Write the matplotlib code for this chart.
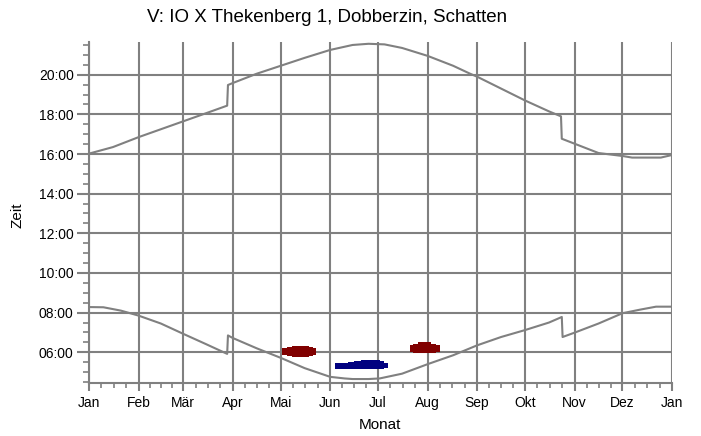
#!/usr/bin/env python3
"""Schattenwurf-Diagramm: Sonnenauf-/untergang und Schattenzeiten."""

import numpy as np
import matplotlib.pyplot as plt
from matplotlib.ticker import FixedLocator, MultipleLocator, FuncFormatter

plt.rcParams["font.family"] = ["Liberation Sans", "DejaVu Sans"]

# Monatsanfaenge (Tag im Jahr) und Beschriftung
month_start = [0, 31, 59, 90, 120, 151, 181, 212, 243, 273, 304, 334, 365]
month_names = ["Jan", "Feb", "Mär", "Apr", "Mai", "Jun", "Jul", "Aug",
               "Sep", "Okt", "Nov", "Dez", "Jan"]

# Sonnenaufgang (Stunden)
rise_day = [0, 9, 20, 31, 45, 59, 73, 86.5, 87, 90, 105, 120, 135, 151,
            160, 165, 175, 182, 196, 212, 228, 243, 258, 273, 288, 296,
            296.5, 304, 319, 334, 345, 355, 365]
rise_h = [8.28, 8.27, 8.1, 7.85, 7.45, 6.93, 6.42, 5.92, 6.85, 6.72, 6.2,
          5.72, 5.2, 4.76, 4.68, 4.65, 4.65, 4.68, 4.92, 5.4, 5.85, 6.35,
          6.77, 7.12, 7.5, 7.78, 6.77, 6.99, 7.45, 7.97, 8.15, 8.3, 8.3]

# Sonnenuntergang (Stunden)
set_day = [0, 15, 31, 45, 59, 73, 86.5, 87, 90, 105, 120, 135, 151, 165,
           175, 185, 196, 212, 228, 238.6, 243, 258, 273, 288, 295.5, 296,
           304, 319, 334, 340, 358, 365]
set_h = [16.02, 16.35, 16.85, 17.25, 17.65, 18.05, 18.44, 19.48, 19.58,
         20.05, 20.45, 20.85, 21.25, 21.5, 21.56, 21.53, 21.35, 20.95,
         20.45, 20.05, 19.9, 19.3, 18.7, 18.15, 17.9, 16.77, 16.52, 16.05,
         15.9, 15.82, 15.82, 15.95]

# Schattenzeiten
shadow1_day = [121, 124, 127, 131, 135, 138, 140, 142]
shadow1_lo = [5.84, 5.8, 5.77, 5.77, 5.77, 5.8, 5.84, 5.84]
shadow1_hi = [6.22, 6.27, 6.32, 6.32, 6.32, 6.27, 6.22, 6.22]

shadow2_day = [154, 158, 162, 166, 170, 174, 178, 182, 185, 187]
shadow2_lo = [5.18, 5.17, 5.16, 5.15, 5.15, 5.14, 5.14, 5.15, 5.2, 5.2]
shadow2_hi = [5.45, 5.47, 5.5, 5.56, 5.6, 5.62, 5.62, 5.58, 5.48, 5.48]

shadow3_day = [201, 203, 206, 214, 217, 220]
shadow3_lo = [5.99, 5.97, 5.95, 5.97, 5.99, 5.99]
shadow3_hi = [6.36, 6.44, 6.52, 6.44, 6.36, 6.36]

grey = "#808080"
dark_red = "#800000"
navy = "#000080"

fig = plt.figure(figsize=(7.01, 4.36), dpi=100)
ax = fig.add_axes([89 / 701, 1 - 383 / 436, 583 / 701, 341 / 436])

ax.plot(rise_day, rise_h, color=grey, lw=1.5, zorder=3)
ax.plot(set_day, set_h, color=grey, lw=1.5, zorder=3)

for d, lo, hi, c in [(shadow1_day, shadow1_lo, shadow1_hi, dark_red),
                     (shadow2_day, shadow2_lo, shadow2_hi, navy),
                     (shadow3_day, shadow3_lo, shadow3_hi, dark_red)]:
    ax.fill_between(d, lo, hi, color=c, lw=0, step="post", zorder=4)

ax.set_xlim(0, 365)
ax.set_ylim(4.45, 21.65)

ax.xaxis.set_major_locator(FixedLocator(month_start))
ax.set_xticklabels(month_names)
minor_x = []
for a, b in zip(month_start[:-1], month_start[1:]):
    minor_x += [a + (b - a) * k / 4 for k in (1, 2, 3)]
ax.xaxis.set_minor_locator(FixedLocator(minor_x))

ax.yaxis.set_major_locator(FixedLocator(np.arange(6, 21, 2)))
ax.yaxis.set_minor_locator(MultipleLocator(0.5))
ax.yaxis.set_major_formatter(FuncFormatter(lambda v, p: "%02d:00" % v))

ax.grid(True, which="major", color=grey, lw=1.5)
ax.set_axisbelow(True)
for s in ["top", "right"]:
    ax.spines[s].set_visible(False)
for s in ["left", "bottom"]:
    ax.spines[s].set_color(grey)
    ax.spines[s].set_linewidth(1.5)

ax.tick_params(axis="y", which="major", length=9, width=1.5, color=grey,
               labelsize=10, pad=2)
ax.tick_params(axis="y", which="minor", length=4.5, width=1.2, color=grey)
ax.tick_params(axis="x", which="major", length=6, width=1.5, color=grey,
               labelsize=10, pad=3)
ax.tick_params(axis="x", which="minor", length=3.5, width=1.2, color=grey)

fig.text(327 / 701, 1 - 18 / 436, "V: IO X Thekenberg 1, Dobberzin, Schatten",
         ha="center", va="center", fontsize=13.5)
fig.text(380 / 701, 1 - 425 / 436, "Monat", ha="center", va="center",
         fontsize=11)
fig.text(18 / 701, 1 - 215 / 436, "Zeit", ha="center", va="center",
         rotation=90, fontsize=11)

fig.savefig("out.png", dpi=100)
